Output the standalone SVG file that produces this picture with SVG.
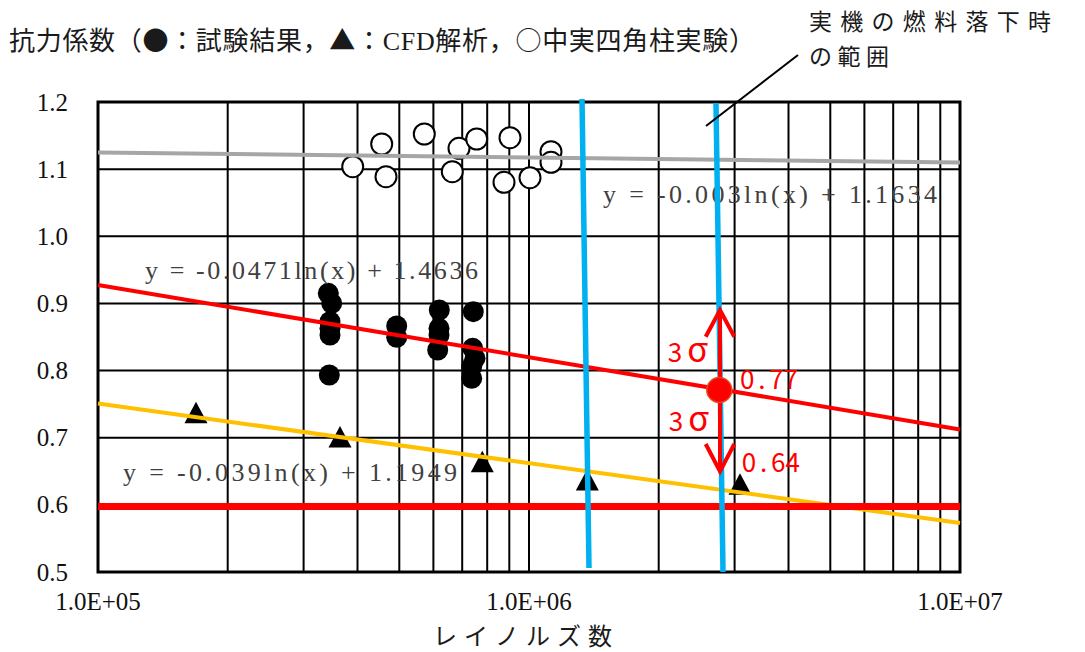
<svg xmlns="http://www.w3.org/2000/svg" width="1085" height="652" viewBox="0 0 1085 652">
<defs>
<style>
.grid{stroke:#000;stroke-width:2;fill:none}
.frame{stroke:#000;stroke-width:3;fill:none}
.tick{font-family:"Liberation Serif",serif;font-size:25px;fill:#111}
.eq{font-family:"Liberation Serif",serif;font-size:26px;fill:#404040}
.jp{font-family:"Noto Sans CJK JP",sans-serif;fill:#1a1a1a}
.lat{font-family:"Liberation Serif",serif}
.red{font-family:"Noto Sans CJK JP",sans-serif;font-size:26px;fill:#FF0000;text-anchor:middle}
.oc{fill:#fff;stroke:#000;stroke-width:2}
.bc{fill:#000}
.blue{stroke:#00B0F0;stroke-width:5.5;fill:none}
.trend{fill:none;stroke-width:4}
</style>
<polygon id="tri" points="0,0 -11.5,21.5 11.5,21.5" fill="#000"/>
</defs>
<rect width="1085" height="652" fill="#fff"/>

<g id="title">
<text class="jp" x="9" y="50" font-size="26" textLength="746">抗力係数（●：試験結果，▲：<tspan class="lat">CFD</tspan>解析，○中実四角柱実験）</text>
</g>

<g id="grid">
<path class="grid" d="M98 169.2H960M98 236.3H960M98 303.4H960M98 370.6H960M98 437.7H960M98 504.9H960
M227.7 102V572M303.6 102V572M357.5 102V572M399.3 102V572M433.4 102V572M462.2 102V572M487.2 102V572M509.3 102V572M529 102V572
M658.7 102V572M734.6 102V572M788.5 102V572M830.3 102V572M864.4 102V572M893.2 102V572M918.2 102V572M940.3 102V572"/>
<rect class="frame" x="98" y="102" width="862" height="470"/>
</g>

<g id="y-axis" class="tick" text-anchor="end">
<text x="68" y="110.5">1.2</text>
<text x="68" y="177.7">1.1</text>
<text x="68" y="244.8">1.0</text>
<text x="68" y="311.9">0.9</text>
<text x="68" y="379">0.8</text>
<text x="68" y="446.2">0.7</text>
<text x="68" y="513.4">0.6</text>
<text x="68" y="580.5">0.5</text>
</g>
<g id="x-axis" class="tick" text-anchor="middle">
<text x="98" y="610">1.0E+05</text>
<text x="529" y="610">1.0E+06</text>
<text x="960" y="610">1.0E+07</text>
<text class="jp" x="433" y="645" font-size="24" text-anchor="start" textLength="179">レイノルズ数</text>
</g>

<g id="square-column-experiment">
<circle class="oc" cx="352.7" cy="166.7" r="10.5"/>
<circle class="oc" cx="381.7" cy="144" r="10.5"/>
<circle class="oc" cx="386" cy="176.7" r="10.5"/>
<circle class="oc" cx="424.3" cy="134" r="10.5"/>
<circle class="oc" cx="459" cy="148.3" r="10.5"/>
<circle class="oc" cx="452.3" cy="171.7" r="10.5"/>
<circle class="oc" cx="476.7" cy="139" r="10.5"/>
<circle class="oc" cx="510" cy="137.7" r="10.5"/>
<circle class="oc" cx="504" cy="182.3" r="10.5"/>
<circle class="oc" cx="530" cy="177.7" r="10.5"/>
<circle class="oc" cx="551" cy="151.7" r="10.5"/>
<circle class="oc" cx="551" cy="162.3" r="10.5"/>
</g>

<g id="test-results">
<circle class="bc" cx="328.3" cy="293.3" r="10.5"/>
<circle class="bc" cx="331.7" cy="303.3" r="10.5"/>
<circle class="bc" cx="330" cy="321.7" r="10.5"/>
<circle class="bc" cx="330" cy="328.3" r="10.5"/>
<circle class="bc" cx="330" cy="335" r="10.5"/>
<circle class="bc" cx="329.3" cy="375" r="10.5"/>
<circle class="bc" cx="396.7" cy="326" r="10.5"/>
<circle class="bc" cx="396.7" cy="337.3" r="10.5"/>
<circle class="bc" cx="439.3" cy="310" r="10.5"/>
<circle class="bc" cx="439" cy="328.3" r="10.5"/>
<circle class="bc" cx="439" cy="335" r="10.5"/>
<circle class="bc" cx="437.7" cy="350" r="10.5"/>
<circle class="bc" cx="473.3" cy="311.7" r="10.5"/>
<circle class="bc" cx="472.7" cy="348.3" r="10.5"/>
<circle class="bc" cx="475" cy="358.3" r="10.5"/>
<circle class="bc" cx="471.7" cy="366.7" r="10.5"/>
<circle class="bc" cx="471.7" cy="378.3" r="10.5"/>
</g>

<g id="cfd-analysis">
<use href="#tri" x="196" y="401.7"/>
<use href="#tri" x="340" y="426"/>
<use href="#tri" x="482.3" y="450.7"/>
<use href="#tri" x="587.3" y="469"/>
<use href="#tri" x="740" y="473.3"/>
</g>

<g id="trendlines">
<line class="trend" x1="98" y1="152.5" x2="960" y2="162.5" stroke="#A6A6A6"/>
<line class="trend" x1="98" y1="285" x2="960" y2="429.5" stroke="#FF0000"/>
<line class="trend" x1="98" y1="403.5" x2="960" y2="523" stroke="#FFC000"/>
</g>

<g id="equations" class="eq">
<text x="145" y="279" textLength="333">y = -0.0471ln(x) + 1.4636</text>
<text x="603" y="203" textLength="334">y = -0.003ln(x) + 1.1634</text>
<text x="123" y="481" textLength="334">y = -0.039ln(x) + 1.1949</text>
</g>

<g id="limit-line">
<line x1="98" y1="506.5" x2="960" y2="506.5" stroke="#FF0000" stroke-width="7"/>
</g>

<g id="range-lines">
<line class="blue" x1="582" y1="99" x2="589" y2="568"/>
<line class="blue" x1="716" y1="103" x2="723" y2="572"/>
</g>

<g id="connectors">
<line x1="798" y1="55" x2="706" y2="126" stroke="#000" stroke-width="2"/>
<path d="M720 310V471.5M705.7 336.7L720 310L734.3 336.7M705.7 444L720 471.5L734.3 444" fill="none" stroke="#FF0000" stroke-width="4"/>
</g>

<g id="mean-point">
<circle cx="719.3" cy="390" r="12.5" fill="#FF0000" stroke="#E8461E" stroke-width="1.5"/>
</g>

<g id="sigma-labels" class="red">
<text x="675" y="362">3<tspan x="697.5" font-size="34">σ</tspan></text>
<text x="676" y="431">3<tspan x="698.5" font-size="34">σ</tspan></text>
<text x="747.3 761.8 776.3 790.8" y="389">0.77</text>
<text x="749 763.6 778.2 792.8" y="472">0.64</text>
</g>

<g id="range-note">
<text class="jp" x="809" y="30" font-size="23" textLength="242">実機の燃料落下時</text>
<text class="jp" x="809" y="65" font-size="23" textLength="80">の範囲</text>
</g>
</svg>
